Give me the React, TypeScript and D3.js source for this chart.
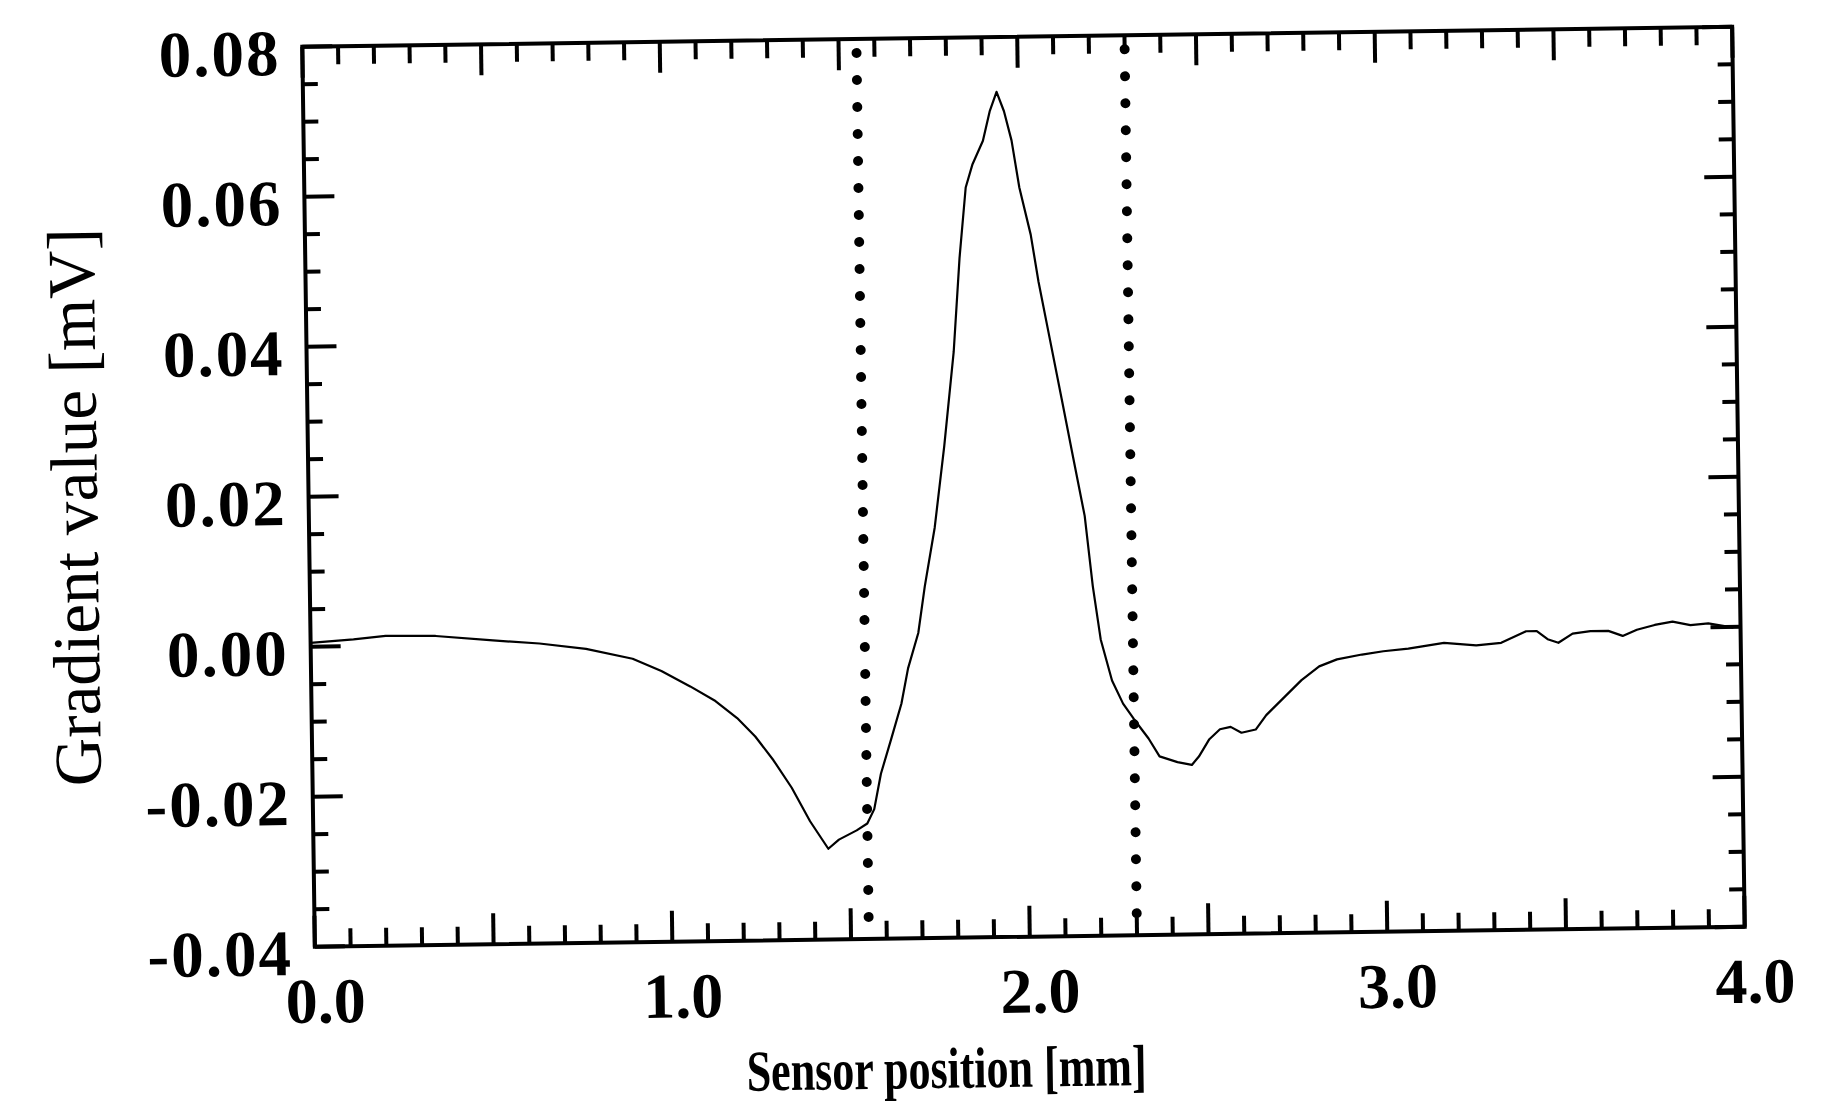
import React from 'react';
import * as d3 from 'd3';

// Sensor position [mm]
const positions = [
  0.0, 0.12, 0.21, 0.35, 0.51, 0.64, 0.77, 0.9, 0.98, 1.06, 1.13, 1.19, 1.24, 1.29, 1.34,
  1.39, 1.44, 1.47, 1.52, 1.55, 1.57, 1.59, 1.62, 1.65, 1.67, 1.7, 1.72, 1.75, 1.78, 1.81,
  1.83, 1.85, 1.87, 1.9, 1.92, 1.94, 1.96, 1.98, 2.0, 2.03, 2.05, 2.08, 2.11, 2.14, 2.17,
  2.19, 2.21, 2.24, 2.27, 2.3, 2.34, 2.37, 2.42, 2.46, 2.48, 2.51, 2.54, 2.57, 2.6, 2.64,
  2.67, 2.72, 2.77, 2.82, 2.87, 2.94, 3.0, 3.07, 3.17, 3.26, 3.33, 3.4, 3.43, 3.46, 3.49,
  3.53, 3.58, 3.63, 3.67, 3.71, 3.76, 3.81, 3.86, 3.91, 3.98,
];
// Gradient value [mV]
const gradient = [
  0.0005, 0.0009, 0.0013, 0.0012, 0.0005, 0.0, -0.0008, -0.0022, -0.0039, -0.006, -0.008,
  -0.0103, -0.0128, -0.016, -0.0197, -0.0242, -0.0279, -0.0267, -0.0255, -0.0246, -0.0227,
  -0.018, -0.0134, -0.0087, -0.004, 0.0007, 0.0069, 0.0147, 0.0256, 0.0381, 0.0506, 0.06,
  0.0631, 0.0662, 0.0701, 0.0727, 0.0701, 0.0662, 0.0599, 0.0536, 0.0473, 0.0395, 0.0317,
  0.0238, 0.016, 0.0066, -0.0005, -0.006, -0.0091, -0.0112, -0.0138, -0.0162, -0.017,
  -0.0174, -0.0163, -0.014, -0.0127, -0.0124, -0.0132, -0.0128, -0.0109, -0.0086, -0.0063,
  -0.0045, -0.0036, -0.003, -0.0026, -0.0023, -0.0016, -0.002, -0.0017, -0.0002, -0.0002,
  -0.0013, -0.0018, -0.0006, -0.0003, -0.0003, -0.001, -0.0002, 0.0004, 0.0008, 0.0003,
  0.0005, -0.0001,
];
// positions of the two dotted boundary markers [mm]
const markerPositions = [1.55, 2.3];

const xTickValues = [0, 1, 2, 3, 4];
const xTickLabels = ['0.0', '1.0', '2.0', '3.0', '4.0'];
const yTickValues = [-0.04, -0.02, 0.0, 0.02, 0.04, 0.06, 0.08];
const yTickLabels = ['-0.04', '-0.02', '0.00', '0.02', '0.04', '0.06', '0.08'];

const xTitle = 'Sensor position [mm]';
const yTitle = 'Gradient value [mV]';

export default function App() {
  const W = 1839;
  const H = 1112;
  const L = 308.5;
  const R = 1738.5;
  const T = 36.75;
  const B = 936.75;
  const cx = (L + R) / 2;
  const cy = (T + B) / 2;

  const x = d3.scaleLinear().domain([0, 4]).range([L, R]);
  const y = d3.scaleLinear().domain([-0.04, 0.08]).range([B, T]);

  const pts: [number, number][] = positions.map((p, i) => [p, gradient[i]]);
  const line = d3
    .line<[number, number]>()
    .x((d) => x(d[0]))
    .y((d) => y(d[1]));

  const xMinor = x.ticks(40);
  const yMinor = y.ticks(24);
  const isHalf = (v: number) => Math.abs(v * 2 - Math.round(v * 2)) < 1e-6;
  const isMajorY = (v: number) => Math.abs(v * 50 - Math.round(v * 50)) < 1e-6;

  const sw = 4;
  const serif = '"Liberation Serif", "DejaVu Serif", serif';

  return (
    <svg
      width={W}
      height={H}
      style={{ position: 'absolute', left: 0, top: 0, background: '#fff' }}
    >
      <rect x={0} y={0} width={W} height={H} fill="#fff" />
      <g transform={`rotate(-0.8 ${cx} ${cy})`}>
        {/* ticks bottom/top */}
        {xMinor.map((v, i) => {
          const len = isHalf(v) ? 31 : 18;
          return (
            <g key={'xt' + i} stroke="#000" strokeWidth={sw}>
              <line x1={x(v)} x2={x(v)} y1={B} y2={B - len} />
              <line x1={x(v)} x2={x(v)} y1={T} y2={T + len} />
            </g>
          );
        })}
        {/* ticks left/right */}
        {yMinor.map((v, i) => {
          const len = isMajorY(v) ? 30 : 15;
          return (
            <g key={'yt' + i} stroke="#000" strokeWidth={sw}>
              <line x1={L} x2={L + len} y1={y(v)} y2={y(v)} />
              <line x1={R} x2={R - len} y1={y(v)} y2={y(v)} />
            </g>
          );
        })}
        {/* frame */}
        <rect
          x={L}
          y={T}
          width={R - L}
          height={B - T}
          fill="none"
          stroke="#000"
          strokeWidth={sw}
        />
        {/* dotted markers */}
        {markerPositions.map((m, i) => (
          <line
            key={'m' + i}
            x1={x(m)}
            x2={x(m)}
            y1={y(0.08) + 14}
            y2={y(-0.04) - 4}
            stroke="#000"
            strokeWidth={10}
            strokeLinecap="round"
            strokeDasharray="0 27"
          />
        ))}
        {/* curve */}
        <path
          d={line(pts) || ''}
          fill="none"
          stroke="#000"
          strokeWidth={2.2}
          strokeLinejoin="round"
        />
        {/* y tick labels */}
        {yTickValues.map((v, i) => (
          <text
            key={'yl' + i}
            x={L - 22}
            y={y(v) + 28}
            textAnchor="end"
            fontFamily={serif}
            fontWeight="bold"
            fontSize={65}
            letterSpacing={2}
            fill="#000"
          >
            {yTickLabels[i]}
          </text>
        ))}
        {/* x tick labels */}
        {xTickValues.map((v, i) => (
          <text
            key={'xl' + i}
            x={x(v) + 10}
            y={B + 76}
            textAnchor="middle"
            fontFamily={serif}
            fontWeight="bold"
            fontSize={64}
            fill="#000"
          >
            {xTickLabels[i]}
          </text>
        ))}
        {/* axis titles */}
        <text
          x={cx - 85}
          y={B + 150}
          textAnchor="middle"
          fontFamily={serif}
          fontWeight="bold"
          fontSize={58}
          textLength={400}
          lengthAdjust="spacingAndGlyphs"
          fill="#000"
        >
          {xTitle}
        </text>
        <text
          transform={`translate(${97}, ${494}) rotate(-90)`}
          textAnchor="middle"
          fontFamily={serif}
          fontSize={67}
          fill="#000"
        >
          {yTitle}
        </text>
      </g>
    </svg>
  );
}
